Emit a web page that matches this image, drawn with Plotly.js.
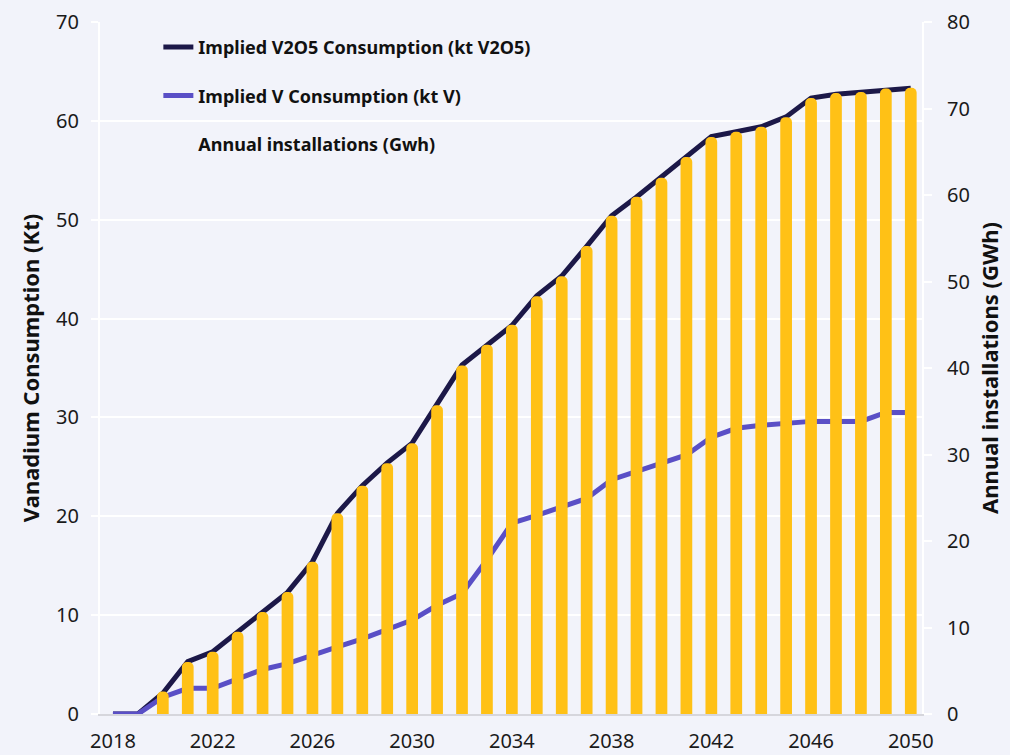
<!DOCTYPE html>
<html>
<head>
<meta charset="utf-8">
<script src="https://cdn.plot.ly/plotly-3.0.1.min.js"></script>
<style>
  html, body { margin: 0; padding: 0; background: #F2F3FA; }
  #chart { width: 1010px; height: 755px; }
</style>
</head>
<body>
<div id="chart"></div>
<script>
const years = [2018,2019,2020,2021,2022,2023,2024,2025,2026,2027,2028,2029,2030,2031,2032,2033,2034,2035,2036,2037,2038,2039,2040,2041,2042,2043,2044,2045,2046,2047,2048,2049,2050];
const annualInstallationsGWh = [0,0,2.6,6.0,7.2,9.5,11.8,14.1,17.6,23.2,26.4,29.0,31.3,35.7,40.3,42.7,45.0,48.3,50.6,54.1,57.6,59.8,62.0,64.4,66.7,67.3,67.9,69.0,71.2,71.8,71.9,72.3,72.4];
const impliedV2O5kt = [0,0,2.1,5.3,6.3,8.3,10.3,12.3,15.4,20.3,23.1,25.4,27.4,31.3,35.3,37.3,39.3,42.3,44.3,47.3,50.4,52.3,54.3,56.3,58.4,58.9,59.4,60.4,62.3,62.7,62.9,63.1,63.3];
const impliedVkt = [0,0,1.7,2.6,2.6,3.6,4.5,5.1,6.0,6.8,7.6,8.5,9.5,11.0,12.2,15.6,19.3,20.1,21.0,21.8,23.7,24.5,25.4,26.2,28.0,28.9,29.2,29.4,29.6,29.6,29.6,30.5,30.5];

const nameV2O5 = 'Implied V2O5 Consumption (kt V2O5)';
const nameV = 'Implied V Consumption (kt V)';
const nameBars = 'Annual installations (Gwh)';

const BG = '#F2F3FA';
const FONT = 'Noto Sans, Open Sans, DejaVu Sans, sans-serif';

const traces = [
  {
    type: 'scatter', mode: 'lines', x: years, y: impliedV2O5kt, name: nameV2O5,
    line: {color: '#1C1848', width: 5}, xaxis: 'x', yaxis: 'y',
    legendgroup: 'a', legendrank: 1
  },
  {
    type: 'scatter', mode: 'lines', x: years, y: impliedVkt, name: nameV,
    line: {color: '#5A4FC6', width: 5}, xaxis: 'x', yaxis: 'y',
    legendgroup: 'b', legendrank: 2
  },
  {
    type: 'bar', x: years, y: annualInstallationsGWh, name: nameBars,
    marker: {color: '#FFC116', cornerradius: 6, line: {width: 0}},
    width: 0.47, xaxis: 'x', yaxis: 'y2', showlegend: false,
    legendgroup: 'c'
  },
  {
    type: 'scatter', mode: 'lines', x: [null], y: [null], name: nameBars,
    line: {color: 'rgba(0,0,0,0)', width: 0}, xaxis: 'x', yaxis: 'y2',
    legendgroup: 'c', legendrank: 3, hoverinfo: 'skip'
  }
];

const layout = {
  width: 1010, height: 755,
  paper_bgcolor: BG, plot_bgcolor: BG,
  font: {family: FONT, size: 20, color: '#222222'},
  margin: {l: 100, r: 88, t: 22, b: 41, pad: 0},
  showlegend: true,
  legend: {
    x: 0.071, y: 0.99, xanchor: 'left', yanchor: 'top',
    bgcolor: 'rgba(0,0,0,0)', borderwidth: 0,
    font: {family: FONT, size: 18, color: '#111111', weight: 'bold'},
    traceorder: 'grouped', tracegroupgap: 22, itemwidth: 30
  },
  xaxis: {
    range: [2017.48, 2050.45], tick0: 2018, dtick: 4, tickmode: 'linear',
    showgrid: false, zeroline: false,
    showline: true, linecolor: '#D6D6DC', linewidth: 2,
    ticks: '', ticklabelstandoff: 8,
    tickfont: {size: 20, color: '#1A1A1A'}
  },
  yaxis: {
    range: [0, 70], dtick: 10, tick0: 0,
    showgrid: true, gridcolor: '#FFFFFF', gridwidth: 2,
    zeroline: false, showline: true, linecolor: '#FFFFFF', linewidth: 2,
    ticks: 'outside', ticklen: 7, tickcolor: '#FFFFFF', tickwidth: 2,
    ticklabelstandoff: 8,
    tickfont: {size: 20, color: '#1A1A1A'},
    title: {text: 'Vanadium Consumption (Kt)', standoff: 10,
            font: {size: 22, color: '#111111', weight: 'bold'}}
  },
  yaxis2: {
    range: [0, 80], dtick: 10, tick0: 0, overlaying: 'y', side: 'right',
    showgrid: false, zeroline: false,
    showline: true, linecolor: '#FFFFFF', linewidth: 2,
    ticks: 'outside', ticklen: 8, tickcolor: '#FFFFFF', tickwidth: 2,
    ticklabelstandoff: 11,
    tickfont: {size: 20, color: '#1A1A1A'},
    title: {text: 'Annual installations (GWh)', standoff: 14,
            font: {size: 22, color: '#111111', weight: 'bold'}}
  }
};

Plotly.newPlot('chart', traces, layout, {displayModeBar: false, responsive: false});
</script>
</body>
</html>
